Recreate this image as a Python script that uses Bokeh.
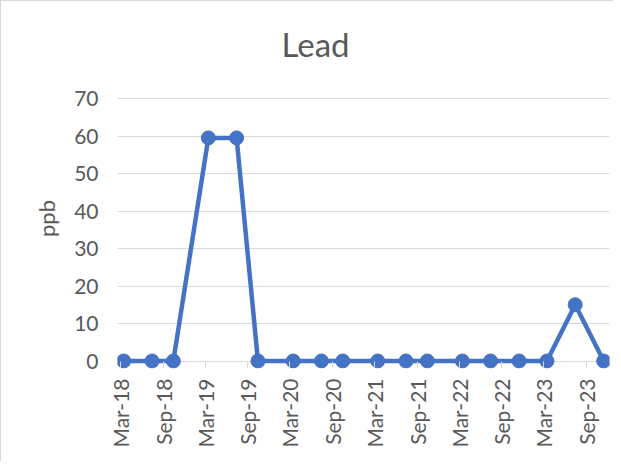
import math
import datetime as dt
from bokeh.plotting import figure
from bokeh.models import Range1d, FixedTicker, ColumnDataSource
from bokeh.embed import file_html
from bokeh.resources import INLINE

# ---- data ----
chart_title = "Lead"
dates = ["2018-03-15", "2018-07-15", "2018-10-15", "2019-03-15", "2019-07-15",
         "2019-10-15", "2020-03-15", "2020-07-15", "2020-10-15", "2021-03-15",
         "2021-07-15", "2021-10-15", "2022-03-15", "2022-07-15", "2022-11-15",
         "2023-03-15", "2023-07-15", "2023-11-15"]
lead_ppb = [0, 0, 0, 59.5, 59.5, 0, 0, 0, 0, 0, 0, 0, 0, 0, 0, 0, 15, 0]

tick_dates = ["2018-03-01", "2018-09-01", "2019-03-01", "2019-09-01", "2020-03-01",
              "2020-09-01", "2021-03-01", "2021-09-01", "2022-03-01", "2022-09-01",
              "2023-03-01", "2023-09-01"]
tick_labels = ["Mar-18", "Sep-18", "Mar-19", "Sep-19", "Mar-20", "Sep-20",
               "Mar-21", "Sep-21", "Mar-22", "Sep-22", "Mar-23", "Sep-23"]
y_ticks = [0, 10, 20, 30, 40, 50, 60, 70]


def ms(s):
    d = dt.datetime.strptime(s, "%Y-%m-%d").replace(tzinfo=dt.timezone.utc)
    return int(d.timestamp() * 1000)


FONT = "Lato"
TXT = "#595959"
GRID = "#d9d9d9"
BLUE = "#4472C4"

src = ColumnDataSource(data=dict(x=[ms(d) for d in dates], y=lead_ppb))

p = figure(
    x_axis_type="datetime",
    frame_width=492, frame_height=300,
    min_border_left=116, min_border_top=67, min_border_right=4, min_border_bottom=93,
    x_range=Range1d(ms("2018-02-16"), ms("2023-12-10")),
    y_range=Range1d(-2, 78),
    output_backend="svg", toolbar_location=None,
    title=chart_title,
)
p.styles = {"border-left": "1px solid #d9d9d9", "border-top": "1px solid #d9d9d9"}
p.outline_line_color = None
p.background_fill_color = "white"
p.border_fill_color = "white"

p.title.text_font = FONT
p.title.text_font_size = "33px"
p.title.text_font_style = "normal"
p.title.text_color = TXT
p.title.align = "left"
p.title.offset = 164
p.title.standoff = 10

# x axis
xt = [ms(d) for d in tick_dates]
p.xaxis.ticker = FixedTicker(ticks=xt)
p.xaxis.major_label_overrides = {t: l for t, l in zip(xt, tick_labels)}
p.xaxis.major_label_orientation = math.pi / 2
p.xaxis.major_label_text_font = FONT
p.xaxis.major_label_text_font_size = "21px"
p.xaxis.major_label_text_color = TXT
p.xaxis.major_label_standoff = 10
p.xaxis.axis_line_color = None
p.xaxis.major_tick_in = 7
p.xaxis.major_tick_out = 0
p.xaxis.major_tick_line_color = GRID
p.xaxis.minor_tick_line_color = None
p.xgrid.grid_line_color = None

# y axis
p.yaxis.ticker = FixedTicker(ticks=y_ticks)
p.yaxis.major_label_text_font = FONT
p.yaxis.major_label_text_font_size = "21px"
p.yaxis.major_label_text_color = TXT
p.yaxis.major_label_standoff = 19
p.yaxis.axis_line_color = None
p.yaxis.major_tick_out = 0
p.yaxis.major_tick_in = 0
p.yaxis.major_tick_line_color = None
p.yaxis.minor_tick_line_color = None
p.yaxis.axis_label = "ppb"
p.yaxis.axis_label_text_font = FONT
p.yaxis.axis_label_text_font_size = "22px"
p.yaxis.axis_label_text_font_style = "normal"
p.yaxis.axis_label_text_color = TXT
p.yaxis.axis_label_standoff = 11
p.ygrid.grid_line_color = GRID
p.ygrid.grid_line_width = 1

p.line("x", "y", source=src, line_color=BLUE, line_width=4.5)
p.scatter("x", "y", source=src, size=14, fill_color=BLUE, line_color=BLUE)

open("out.html", "w").write(file_html(p, INLINE))
